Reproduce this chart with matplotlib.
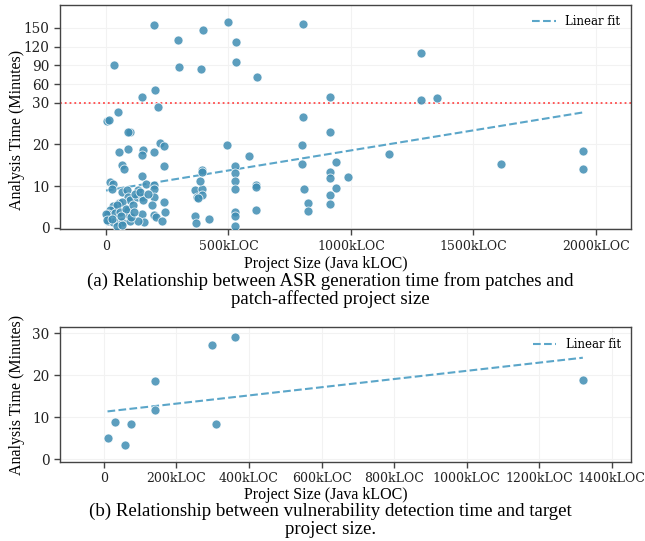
import matplotlib.pyplot as plt
import numpy as np

# (a) ASR generation time vs project size (kLOC, minutes)
asr_kloc = [197, 34, 293, 299, 395, 386, 500, 532, 532, 617, 803, 199, 148, 916, 1285, 1285, 1351,
            5, 14, 49, 211, 96, 90, 803, 916,
            88, 53, 150, 147, 197, 221, 238, 238, 64, 74, 147, 162, 197, 197, 16, 30, 23, 67, 86,
            132, 91, 98, 125, 146, 152, 197, 189, 238, 241, 197, 203, 227, 146, 157, 53, 64, 30,
            44, 16, 7, 37, 57, 91, 94, 10, 30, 50, 67, 98, 44, 64, 132, 364, 393, 370, 393, 377,
            384, 393, 393, 364, 366, 422, 495, 527, 527, 527, 527, 527, 527, 527, 584, 613, 613,
            613, 799, 799, 940, 916, 916, 990, 940, 808, 916, 826, 826, 914, 1157, 1612, 1947,
            1947, 0, 5, 80, 110, 120, 140, 170, 100, 115, 25, 60]
asr_minutes = [154, 90, 130, 87, 147, 84, 160, 128, 95, 72, 157, 51, 40, 40, 110, 34, 38,
               25.7, 26, 27.8, 28.9, 23, 23.1, 26.5, 23,
               18.9, 18.2, 18.6, 17.5, 18.2, 20.4, 19.6, 14.8, 15.1, 14, 12.5, 10.5, 10.3, 9.4,
               11.1, 10.5, 9.3, 8.7, 9.1, 9.1, 7.5, 6.7, 7.5, 7.5, 6.7, 7.5, 5.5, 6.1, 3.7, 3.1,
               2.5, 1.6, 3.3, 1.4, 5.9, 6.3, 5.1, 5.4, 4.3, 3.2, 3.5, 3.7, 4.3, 3.1, 1.6, 1.3, 1.3,
               1.3, 1.6, 0.5, 0.6, 1.6, 9.1, 9.3, 7.5, 7.9, 7.1, 11.2, 13.9, 13.5, 2.7, 1.1, 2.1,
               19.9, 14.8, 13.1, 11.2, 9.2, 3.7, 2.9, 0.4, 17.2, 10.3, 9.7, 4.3, 19.8, 15.3, 15.9,
               13.5, 11.9, 12.2, 9.5, 9.2, 7.8, 5.9, 3.9, 5.7, 17.7, 15.3, 18.5, 14, 3.4, 1.8, 4.6,
               5.5, 8.0, 8.5, 8.0, 2.5, 3.8, 2.2, 2.8]
asr_fit = (0.009635, 8.94)   # slope, intercept
threshold = 30

# (b) vulnerability detection time vs project size
vd_kloc = [10, 30, 58, 73.5, 141, 141, 297.5, 361, 309, 1320]
vd_minutes = [5.1, 8.8, 3.3, 8.3, 18.6, 11.6, 27.2, 29.2, 8.4, 18.8]

top_xticks = [0, 500, 1000, 1500, 2000]
top_yticks = [0, 10, 20, 30, 60, 90, 120, 150]
bot_xticks = [0, 200, 400, 600, 800, 1000, 1200, 1400]
bot_yticks = [0, 10, 20, 30]

POINT = '#3f8db3'
LINE = '#5ba6c9'
TICKFONT = 'DejaVu Serif'
LABELFONT = 'Liberation Serif'


def fwd(y):
    y = np.asarray(y, dtype=float)
    return np.where(y <= 30, y, 30 + (y - 30) * 0.15)


def inv(t):
    t = np.asarray(t, dtype=float)
    return np.where(t <= 30, t, 30 + (t - 30) / 0.15)


def kloc(v, pos=None):
    return '0' if v == 0 else f'{int(v)}kLOC'


def style(ax, xticks, yticks, ylab_y, xlab_y):
    ax.set_xticks(xticks)
    ax.set_yticks(yticks)
    ax.xaxis.set_major_formatter(plt.FuncFormatter(kloc))
    ax.grid(True, color='#f2f2f2', linewidth=0.8)
    ax.set_axisbelow(True)
    for s in ax.spines.values():
        s.set_color('#444444')
        s.set_linewidth(1.0)
    ax.tick_params(direction='out', length=4, width=1, color='#444444', labelcolor='#222222')
    ax.tick_params(axis='x', labelsize=9)
    ax.tick_params(axis='y', labelsize=9.8)
    for lab in ax.get_xticklabels() + ax.get_yticklabels():
        lab.set_fontfamily(TICKFONT)
    ax.set_xlabel('Project Size (Java kLOC)', fontfamily=LABELFONT, fontsize=11.5)
    ax.set_ylabel('Analysis Time (Minutes)', fontfamily=LABELFONT, fontsize=11.5)
    ax.xaxis.set_label_coords(0.465, xlab_y)
    ax.yaxis.set_label_coords(-0.061, ylab_y)
    ax.legend(loc='upper right', frameon=False, prop={'family': TICKFONT, 'size': 8.5})


fig = plt.figure(figsize=(6.45, 5.41), dpi=100)

# ---- (a)
ax1 = fig.add_axes([0.093, 0.576, 0.885, 0.415])
ax1.set_yscale('function', functions=(fwd, inv))
xs = np.linspace(min(asr_kloc), max(asr_kloc), 50)
ax1.plot(xs, asr_fit[0] * xs + asr_fit[1], '--', color=LINE, lw=1.5, label='Linear fit', zorder=2)
ax1.scatter(asr_kloc, asr_minutes, s=42, color=POINT, alpha=0.85,
            edgecolor='white', linewidth=0.6, zorder=3)
ax1.axhline(threshold, color='#ff4a4a', linestyle=':', lw=1.3, zorder=2)
ax1.set_xlim(-188, 2143)
ax1.set_ylim(-0.4, 187)
style(ax1, top_xticks, top_yticks, 0.443, -0.118)

# ---- (b)
ax2 = fig.add_axes([0.093, 0.1466, 0.886, 0.2484])
slope, icpt = np.polyfit(vd_kloc, vd_minutes, 1)
xb = np.linspace(min(vd_kloc), max(vd_kloc), 50)
ax2.plot(xb, slope * xb + icpt, '--', color=LINE, lw=1.5, label='Linear fit', zorder=2)
ax2.scatter(vd_kloc, vd_minutes, s=42, color=POINT, alpha=0.85,
            edgecolor='white', linewidth=0.6, zorder=3)
ax2.set_xlim(-121, 1454)
ax2.set_ylim(-0.64, 31.4)
style(ax2, bot_xticks, bot_yticks, 0.5, -0.19)

cap = dict(ha='center', va='center', fontfamily=LABELFONT, fontsize=13.6)
fig.text(0.512, 1 - 281 / 541, '(a) Relationship between ASR generation time from patches and', **cap)
fig.text(0.512, 1 - 299 / 541, 'patch-affected project size', **cap)
fig.text(0.512, 1 - 511 / 541, '(b) Relationship between vulnerability detection time and target', **cap)
fig.text(0.512, 1 - 529 / 541, 'project size.', **cap)

fig.savefig('out.png', dpi=100)
